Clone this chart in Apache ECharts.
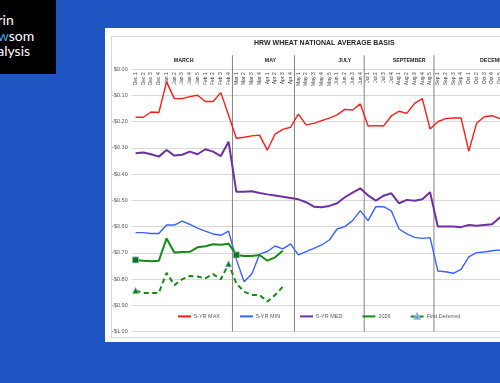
<!DOCTYPE html>
<html><head><meta charset="utf-8">
<script src="https://cdn.jsdelivr.net/npm/echarts@6/dist/echarts.min.js"></script>
<style>
html,body{margin:0;padding:0;width:500px;height:383px;overflow:hidden;background:#1f56c4;}
#logo{position:absolute;left:0;top:0;width:56px;height:74px;background:#000;overflow:hidden;}
.lg{position:absolute;left:-20px;white-space:nowrap;font-family:Lato,'Open Sans',sans-serif;font-size:14px;line-height:15.5px;color:#fff;}
#panel{position:absolute;left:105px;top:28px;width:520px;height:314px;background:#fff;}
#inner{position:absolute;left:111px;top:36px;width:520px;height:300px;border:1px solid #d9d9d9;}
#chart{position:absolute;left:0;top:0;width:620px;height:383px;}
</style></head>
<body>
<div id="logo">
  <div class="lg" style="top:12px">Darin</div>
  <div class="lg" style="top:27.5px"><span style="color:#3fa9f5">New</span>som</div>
  <div class="lg" style="top:43px">Analysis</div>
</div>
<div id="panel"></div>
<div id="inner"></div>
<div id="chart"></div>
<script>
const categories = ['Dec 1','Dec 2','Dec 3','Dec 4','Jan 1','Jan 2','Jan 3','Jan 4','Jan 5','Feb 1','Feb 2','Feb 3','Feb 4',
  'Mar 1','Mar 2','Mar 3','Mar 4','Apr 1','Apr 2','Apr 3','Apr 4',
  'May 1','May 2','May 3','May 4','May 5','Jun 1','Jun 2','Jun 3','Jun 4',
  'Jul 1','Jul 2','Jul 3','Jul 4','Aug 1','Aug 2','Aug 3','Aug 4','Aug 5',
  'Sep 1','Sep 2','Sep 3','Sep 4','Oct 1','Oct 2','Oct 3','Oct 4','Oct 5','Nov 1','Nov 2','Nov 3','Nov 4'];
const sectionNames = ['MARCH','MAY','JULY','SEPTEMBER','DECEMBER'];
const sectionBreaks = [12.5, 20.5, 29.5, 38.5];
const sectionLabelAt = [6.2, 17.4, 27.0, 35.3, 46.4];
const seriesNames = ['5-YR MAX','5-YR MIN','5-YR MED','2026','First Deferred'];

const max5 = [-0.183,-0.183,-0.163,-0.165,-0.048,-0.112,-0.112,-0.104,-0.099,-0.123,-0.123,-0.089,-0.175,
  -0.263,-0.259,-0.254,-0.251,-0.308,-0.247,-0.229,-0.221,
  -0.171,-0.212,-0.206,-0.196,-0.186,-0.174,-0.153,-0.155,-0.132,
  -0.216,-0.215,-0.216,-0.178,-0.160,-0.168,-0.130,-0.112,-0.228,
  -0.200,-0.188,-0.186,-0.186,-0.312,-0.206,-0.181,-0.177,-0.188,-0.185,-0.180,-0.178,-0.175];
const min5 = [-0.623,-0.623,-0.626,-0.626,-0.594,-0.594,-0.579,-0.591,-0.606,-0.617,-0.628,-0.633,-0.617,
  -0.725,-0.810,-0.781,-0.705,-0.695,-0.674,-0.685,-0.666,
  -0.708,-0.695,-0.683,-0.670,-0.651,-0.609,-0.600,-0.577,-0.539,
  -0.577,-0.524,-0.524,-0.540,-0.609,-0.628,-0.641,-0.645,-0.642,
  -0.769,-0.772,-0.778,-0.763,-0.715,-0.699,-0.697,-0.692,-0.689,-0.685,-0.680,-0.675,-0.670];
const med5 = [-0.320,-0.317,-0.324,-0.333,-0.308,-0.329,-0.326,-0.314,-0.324,-0.305,-0.314,-0.331,-0.276,
  -0.467,-0.467,-0.465,-0.472,-0.477,-0.481,-0.486,-0.491,
  -0.496,-0.507,-0.524,-0.526,-0.521,-0.511,-0.488,-0.470,-0.454,
  -0.481,-0.501,-0.482,-0.473,-0.511,-0.498,-0.501,-0.496,-0.469,
  -0.600,-0.600,-0.600,-0.602,-0.594,-0.597,-0.594,-0.591,-0.565,-0.560,-0.555,-0.550,-0.545];
const y2026 = [-0.727,-0.730,-0.732,-0.730,-0.645,-0.699,-0.697,-0.696,-0.679,-0.675,-0.667,-0.669,-0.665,
  -0.708,-0.712,-0.712,-0.708,-0.730,-0.717,-0.692];
const firstDeferred = [-0.844,-0.853,-0.853,-0.853,-0.776,-0.823,-0.801,-0.788,-0.790,-0.797,-0.781,-0.801,-0.742,
  -0.816,-0.848,-0.861,-0.861,-0.886,-0.861,-0.829];
const marks2026 = [0, 13];
const marksFD = [0, 12];

const FONT = "'Liberation Sans', Arial, sans-serif";
const GREEN = '#148c14';
const step = 7.75;

function withMarks(values, idxs, symbol, size) {
  return values.map((v, i) => idxs.indexOf(i) >= 0
    ? {value: v, symbol: symbol, symbolSize: size}
    : {value: v, symbol: 'none'});
}

const chart = echarts.init(document.getElementById('chart'), null, {renderer: 'canvas'});
const N = categories.length;
chart.setOption({
  animation: false,
  textStyle: {fontFamily: FONT},
  graphic: [{
    type: 'text', left: 254, top: 40,
    style: {text: 'HRW WHEAT NATIONAL AVERAGE BASIS', font: 'bold 7px ' + FONT, fill: '#262626'}
  }],
  legend: {
    data: seriesNames.map(n => n === 'First Deferred'
      ? {name: n}
      : {name: n, itemStyle: {opacity: 0}}),
    left: 177, top: 313, padding: 0, itemWidth: 13, itemHeight: 6, itemGap: 19,
    textStyle: {fontSize: 5.5, color: '#595959', fontFamily: FONT, padding: [0, 0, 0, -2]}
  },
  grid: {left: 131.7, top: 69.3, width: N * step, height: 262.2, containLabel: false},
  xAxis: [{
    type: 'category', position: 'top', data: categories, boundaryGap: true,
    axisLine: {show: false}, axisTick: {show: false},
    axisLabel: {inside: true, rotate: 90, interval: 0, fontSize: 5, color: '#404040', margin: 3, fontFamily: FONT}
  }, {
    type: 'value', min: -0.5, max: N - 0.5, show: false
  }],
  yAxis: {
    type: 'value', min: -1, max: 0, interval: 0.1,
    axisLine: {show: false}, axisTick: {show: false},
    splitLine: {lineStyle: {color: '#d9d9d9', width: 1}},
    axisLabel: {fontSize: 5.5, color: '#595959', margin: 4, fontFamily: FONT,
      formatter: v => (v < -1e-9 ? '-' : '') + '$' + Math.abs(v).toFixed(2)}
  },
  series: [
    {name: '5-YR MAX', type: 'line', data: max5, symbol: 'none', color: '#ff1a1a', lineStyle: {width: 1.4, color: '#ff1a1a'}},
    {name: '5-YR MIN', type: 'line', data: min5, symbol: 'none', color: '#3a62ff', lineStyle: {width: 1.4, color: '#3a62ff'}},
    {name: '5-YR MED', type: 'line', data: med5, symbol: 'none', color: '#7030a0', lineStyle: {width: 2, color: '#7030a0'}},
    {name: '2026', type: 'line', data: withMarks(y2026, marks2026, 'rect', 6), symbol: 'none', color: GREEN,
      itemStyle: {color: '#0b7a0b', borderColor: '#8fb0e8', borderWidth: 0.8},
      lineStyle: {width: 2, color: GREEN}},
    {name: 'First Deferred', type: 'line', data: withMarks(firstDeferred, marksFD, 'triangle', 6), symbol: 'triangle', color: GREEN,
      itemStyle: {color: '#0b7a0b', borderColor: '#8fb0e8', borderWidth: 0.8},
      lineStyle: {width: 2, color: GREEN, type: [5, 3.5]}},
    {type: 'custom', xAxisIndex: 1, silent: true, z: 1,
      data: sectionBreaks.map(b => [b]),
      renderItem: function (params, api) {
        const top = api.coord([api.value(0), 0]);
        const bot = api.coord([api.value(0), -1]);
        return {type: 'line', shape: {x1: top[0], y1: top[1] - 14, x2: bot[0], y2: bot[1]},
          style: {stroke: '#808080', lineWidth: 1}};
      }},
    {type: 'custom', xAxisIndex: 1, silent: true, z: 3,
      data: sectionNames.map((n, i) => [sectionLabelAt[i], n]),
      renderItem: function (params, api) {
        const p = api.coord([api.value(0), 0]);
        return {type: 'text', x: p[0], y: p[1] - 9,
          style: {text: sectionNames[params.dataIndex], font: 'bold 5.3px ' + FONT, fill: '#262626',
            align: 'center', verticalAlign: 'middle'}};
      }}
  ]
});
</script>
</body></html>
